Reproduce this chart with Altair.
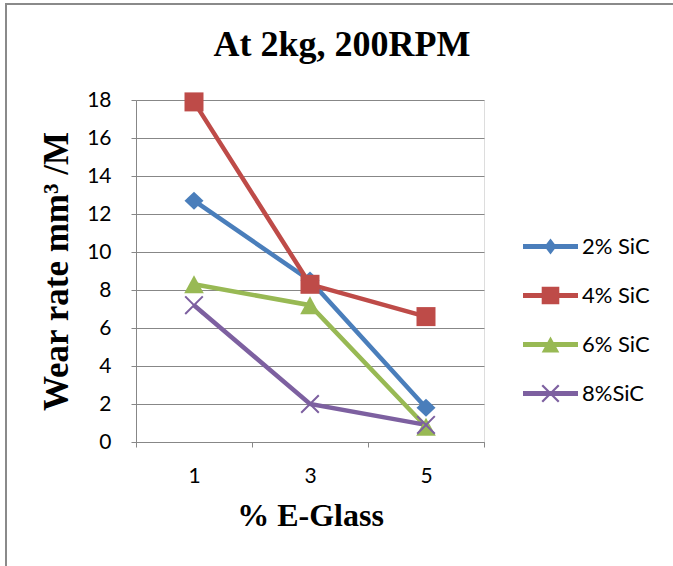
import altair as alt
import pandas as pd

x_vals = [1, 3, 5]
series = ["2% SiC", "4% SiC", "6% SiC", "8%SiC"]
s2 = [12.7, 8.5, 1.8]
s4 = [17.9, 8.3, 6.6]
s6 = [8.3, 7.2, 0.8]
s8 = [7.2, 2.0, 0.9]
colors = ["#4A7EBB", "#BE4B48", "#98B954", "#7D60A0"]

rows = []
for name, vals in zip(series, [s2, s4, s6, s8]):
    for xv, yv in zip(x_vals, vals):
        rows.append({"x": xv, "value": yv, "series": name})
df = pd.DataFrame(rows)


def rect(t):
    return f"M-1,{-t}H1V{t}H-1Z"


def diamond(w, h):
    return f"M0,{-h}L{w},0L0,{h}L{-w},0Z"


def square(s):
    return f"M{-s},{-s}H{s}V{s}H{-s}Z"


def triangle(w, h):
    return f"M0,{-h}L{w},{h}L{-w},{h}Z"


def xcross(a, t):
    k = t / 2 ** 0.5
    p1 = f"M{-a+k},{-a-k}L{a+k},{a-k}L{a-k},{a+k}L{-a-k},{-a+k}Z"
    p2 = f"M{a+k},{-a+k}L{-a+k},{a+k}L{-a-k},{a-k}L{a-k},{-a-k}Z"
    return p1 + p2


marker_paths = [diamond(0.95, 0.9), square(0.95), triangle(0.98, 0.9), xcross(0.88, 0.1)]
lt = 0.09
legend_paths = [
    rect(lt) + diamond(0.22, 0.29),
    rect(lt) + square(0.32),
    rect(lt) + triangle(0.32, 0.29),
    rect(lt) + xcross(0.3, 0.04),
]

grid_col = "#878787"
lab_font = "Lato"
serif = "Liberation Serif"

x_enc = alt.X(
    "x:Q",
    scale=alt.Scale(domain=[0, 6], nice=False, zero=False),
    axis=alt.Axis(
        values=[0, 1, 2, 3, 4, 5, 6],
        format="d",
        labelExpr="datum.value % 2 == 1 ? datum.label : ''",
        labelOverlap=False,
        tickOpacity={"condition": {"test": "datum.value % 2 == 0", "value": 1}, "value": 0},
        grid=False,
        title="% E-Glass",
        titleFont=serif,
        titleFontSize=32,
        titleFontWeight="bold",
        titleColor="black",
        titlePadding=14,
        labelFont=lab_font,
        labelFontSize=21,
        labelColor="black",
        labelPadding=18,
        tickSize=5,
        tickColor=grid_col,
        domainColor=grid_col,
    ),
)
y_enc = alt.Y(
    "value:Q",
    scale=alt.Scale(domain=[0, 18], nice=False),
    axis=alt.Axis(
        values=[0, 2, 4, 6, 8, 10, 12, 14, 16, 18],
        format="d",
        labelOverlap=False,
        labelBound=False,
        grid=True,
        gridColor=grid_col,
        gridWidth=1,
        title="Wear rate mm³ /M",
        titleFont=serif,
        titleFontSize=35,
        titleFontWeight="bold",
        titleColor="black",
        titlePadding=12,
        labelFont=lab_font,
        labelFontSize=21,
        labelColor="black",
        labelPadding=20,
        tickSize=5,
        tickColor=grid_col,
        domainColor=grid_col,
    ),
)

base = alt.Chart(df)

lines = base.mark_line(strokeWidth=4.5).encode(
    x=x_enc,
    y=y_enc,
    color=alt.Color("series:N", scale=alt.Scale(domain=series, range=colors), legend=None),
    detail="series:N",
)

points = base.mark_point(filled=True, opacity=1, size=400, strokeWidth=0).encode(
    x=x_enc,
    y=y_enc,
    color=alt.Color("series:N", scale=alt.Scale(domain=series, range=colors), legend=None),
    shape=alt.Shape("series:N", scale=alt.Scale(domain=series, range=marker_paths), legend=None),
)

leg = alt.Legend(
    title=None,
    orient="none",
    legendX=387,
    legendY=119,
    labelFont=lab_font,
    labelFontSize=22,
    labelColor="black",
    rowPadding=10,
    labelOffset=4,
    symbolSize=3025,
    symbolStrokeWidth=0,
    symbolOpacity=1,
)

legend_layer = base.transform_filter("false").mark_point(filled=True, opacity=1, size=3025, strokeWidth=0).encode(
    x=x_enc,
    y=y_enc,
    color=alt.Color("series:N", scale=alt.Scale(domain=series, range=colors), legend=leg),
    shape=alt.Shape("series:N", scale=alt.Scale(domain=series, range=legend_paths), legend=leg),
)

border_left = alt.Chart(pd.DataFrame({"a": [0]})).mark_rule(color="#8A8A8A", strokeWidth=2).encode(
    x=alt.value(-130), y=alt.value(-96), y2=alt.value(470)
)
border_top = alt.Chart(pd.DataFrame({"a": [0]})).mark_rule(color="#8A8A8A", strokeWidth=2).encode(
    x=alt.value(-131), x2=alt.value(540), y=alt.value(-96)
)

chart = (
    alt.layer(lines, points, legend_layer, border_left, border_top)
    .resolve_scale(shape="independent", color="independent")
    .properties(
        width=348,
        height=342,
        title=alt.TitleParams(
            "At 2kg, 200RPM",
            font=serif,
            fontSize=36,
            fontWeight="bold",
            color="black",
            anchor="middle",
            dx=32,
            baseline="alphabetic",
            offset=0,
            dy=89,
        ),
        autosize=alt.AutoSizeParams(type="none"),
        padding={"left": 136, "top": 100, "right": 189, "bottom": 124},
    )
    .configure_view(stroke=None)
    .configure_axis(labelOverlap=False)
    .configure(background="white")
)

chart.save("out.html", embed_options={"renderer": "svg", "actions": False})
